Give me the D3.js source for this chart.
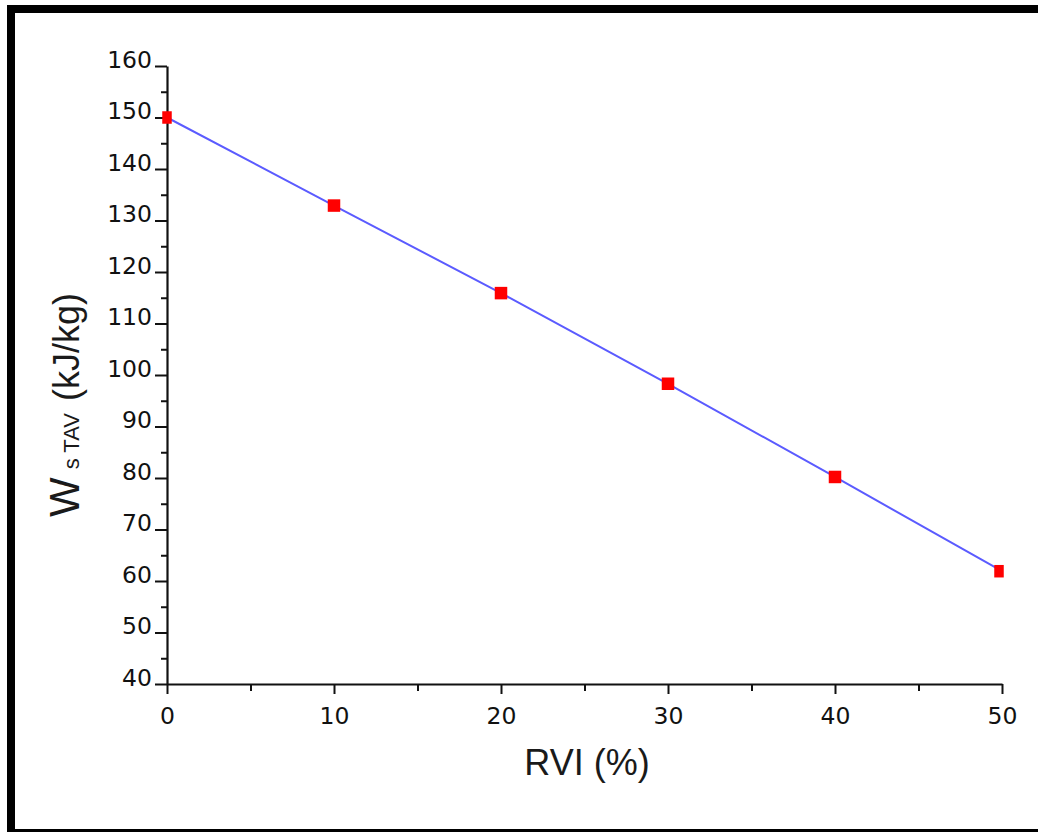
<!DOCTYPE html>
<html>
<head>
<meta charset="utf-8">
<script src="https://cdn.jsdelivr.net/npm/d3@7"></script>
<style>
  html, body { margin: 0; padding: 0; background: #fff; }
  svg { display: block; }
</style>
</head>
<body>
<svg id="chart" width="1038" height="832"></svg>
<script>
// ---- data ----
const rvi = [0, 10, 20, 30, 40, 50];
const wsTav = [150, 132.9, 115.9, 98.3, 80.2, 61.9];
const xTicks = [0, 10, 20, 30, 40, 50];
const yTicks = [40, 50, 60, 70, 80, 90, 100, 110, 120, 130, 140, 150, 160];
const xMinor = [5, 15, 25, 35, 45];
const yMinor = [45, 55, 65, 75, 85, 95, 105, 115, 125, 135, 145, 155];
const xTitle = "RVI (%)";

const svg = d3.select("#chart");
const W = 1038, H = 832;

// frame
svg.append("rect").attr("x", 0).attr("y", 0).attr("width", W).attr("height", H).attr("fill", "#fff");
svg.append("rect").attr("x", 7).attr("y", 5).attr("width", 8).attr("height", H - 5).attr("fill", "#000");
svg.append("rect").attr("x", 7).attr("y", 5).attr("width", W - 7).attr("height", 8).attr("fill", "#000");
svg.append("rect").attr("x", 7).attr("y", 829).attr("width", W - 7).attr("height", 3).attr("fill", "#000");

const x = d3.scaleLinear().domain([0, 50]).range([167, 1002]);
const y = d3.scaleLinear().domain([40, 160]).range([684, 66]);

const tickFont = "'DejaVu Sans', Verdana, sans-serif";

// minor ticks
const gx = svg.append("g").attr("transform", "translate(0,684)");
gx.call(d3.axisBottom(x).tickValues(xMinor).tickSize(7).tickFormat(""))
  .call(g => g.select(".domain").remove())
  .call(g => g.selectAll("line").attr("stroke", "#111").attr("stroke-width", 2));
const gy = svg.append("g").attr("transform", "translate(167,0)");
gy.call(d3.axisLeft(y).tickValues(yMinor).tickSize(6).tickFormat(""))
  .call(g => g.select(".domain").remove())
  .call(g => g.selectAll("line").attr("stroke", "#111").attr("stroke-width", 2));

// major x axis
svg.append("g").attr("transform", "translate(0,684)")
  .call(d3.axisBottom(x).tickValues(xTicks).tickSize(10).tickSizeOuter(0).tickPadding(13).tickFormat(d3.format("d")))
  .call(g => g.select(".domain").attr("stroke", "#111").attr("stroke-width", 2.2))
  .call(g => g.selectAll(".tick line").attr("stroke", "#111").attr("stroke-width", 2))
  .call(g => g.selectAll("text").attr("fill", "#111").attr("font-family", tickFont).attr("font-size", 23.5));

// major y axis
svg.append("g").attr("transform", "translate(167,0)")
  .call(d3.axisLeft(y).tickValues(yTicks).tickSize(12).tickSizeOuter(0).tickPadding(3).tickFormat(d3.format("d")))
  .call(g => g.select(".domain").attr("stroke", "#111").attr("stroke-width", 2.2))
  .call(g => g.selectAll(".tick line").attr("stroke", "#111").attr("stroke-width", 2))
  .call(g => g.selectAll("text").attr("fill", "#111").attr("font-family", tickFont).attr("font-size", 23.5).attr("dy", "0.05em"));

// line
const line = d3.line().x((d, i) => x(rvi[i])).y(d => y(d));
svg.append("path").datum(wsTav).attr("d", line)
  .attr("fill", "none").attr("stroke", "#5b5bff").attr("stroke-width", 2);

// markers
const ms = 12.5;
svg.append("g").selectAll("rect").data(wsTav).join("rect")
  .attr("x", (d, i) => x(rvi[i]) - ms / 2 + (i === 0 ? 1.5 : 0) - (i === rvi.length - 1 ? 1.5 : 0))
  .attr("y", d => y(d) - ms / 2)
  .attr("width", (d, i) => (i === 0 || i === rvi.length - 1) ? ms - 3 : ms)
  .attr("height", ms)
  .attr("fill", "#ff0000");

// x title
svg.append("text").attr("x", 587).attr("y", 775).attr("text-anchor", "middle")
  .attr("font-family", "'Liberation Sans', Arial, sans-serif").attr("font-size", 36)
  .attr("fill", "#1a1a1a").text(xTitle);

// y title
const yt = svg.append("text").attr("transform", "translate(79,517) rotate(-90)")
  .attr("text-anchor", "start")
  .attr("font-family", "'Liberation Sans', Arial, sans-serif").attr("fill", "#1a1a1a");
yt.append("tspan").attr("font-size", 42).text("W");
yt.append("tspan").attr("font-size", 22).attr("dx", 8).text("s TAV");
yt.append("tspan").attr("font-size", 36).attr("dx", 12).text("(kJ/kg)");
</script>
</body>
</html>
